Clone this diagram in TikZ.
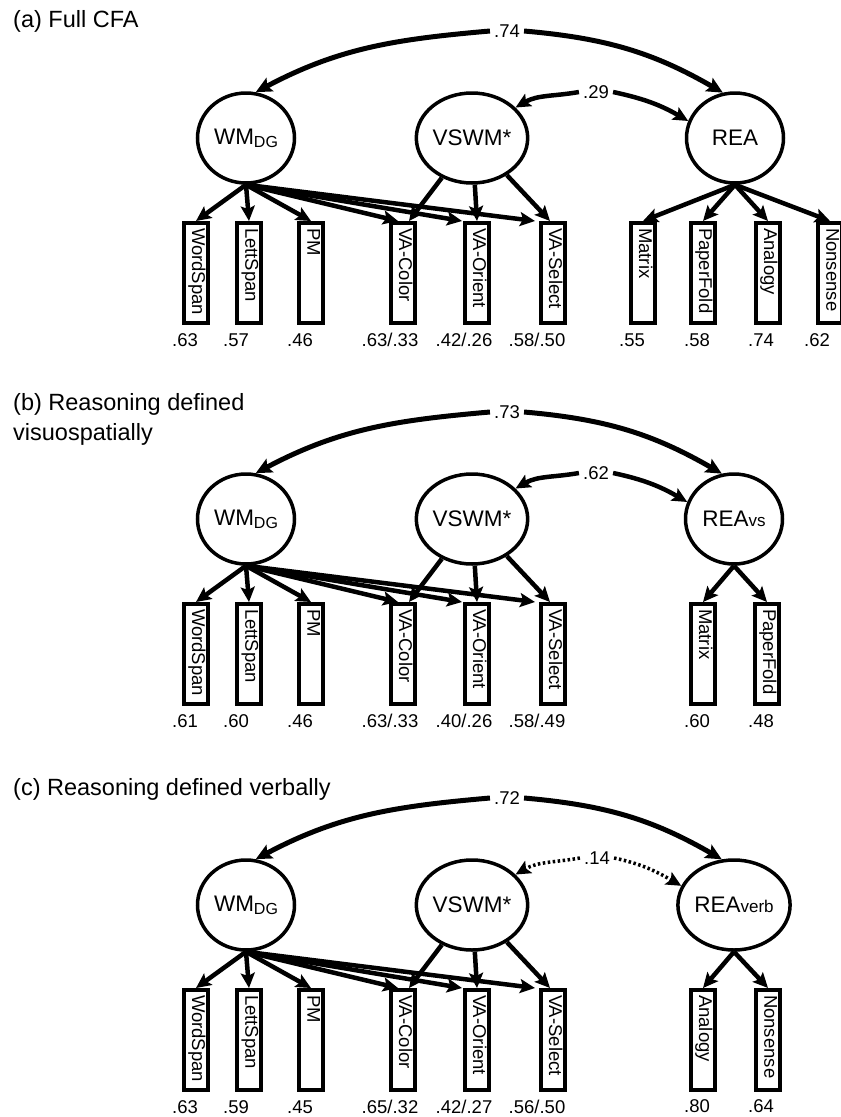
\documentclass[tikz,border=0pt]{standalone}
\usepackage{fontspec}
\setmainfont{Liberation Sans}
\usetikzlibrary{arrows.meta,shapes.geometric,calc}
\tikzset{
  lat/.style={draw, ellipse, line width=3.5pt, minimum width=97pt, minimum height=90pt, inner sep=0pt, font=\fontsize{22.5}{22.5}\selectfont},
  obs/.style={draw, rectangle, line width=4pt, minimum width=24pt, minimum height=100pt, inner sep=0pt, font=\fontsize{18.5}{18.5}\selectfont},
  load/.style={font=\fontsize{18.5}{18.5}\selectfont, inner sep=0pt},
  corr/.style={font=\fontsize{18.5}{18.5}\selectfont, inner sep=4pt},
  ttl/.style={font=\fontsize{23.5}{23.5}\selectfont, anchor=base west, inner sep=0pt},
  ar/.style={line width=4.5pt, -{Stealth[length=15pt,width=14pt,inset=3pt]}},
  cv/.style={line width=5pt, -{Stealth[length=16pt,width=15pt,inset=3pt]}},
  dotar/.style={line width=3.5pt, dash pattern=on 2.5pt off 2.5pt, -{Stealth[length=15pt,width=14pt,inset=3pt]}},
}
\newcommand\boxtxt[1]{\rotatebox{-90}{\makebox[90pt][l]{\strut #1}}}
\newcommand\subsm[1]{{\fontsize{17}{17}\selectfont #1}}
% common left part: #1 suffix, #2..#7 loading labels
\newcommand\panelleft[7]{%
  \node[lat] (wm#1) at (246,-138) {WM\raisebox{-3pt}{\fontsize{16}{16}\selectfont DG}};
  \node[lat] (vs#1) at (472,-138) {VSWM*};
  \node[obs] (ws#1) at (196,-273) {\boxtxt{WordSpan}};
  \node[obs] (ls#1) at (249,-273) {\boxtxt{LettSpan}};
  \node[obs] (pm#1) at (311,-273) {\boxtxt{PM}};
  \node[obs] (vc#1) at (403,-273) {\boxtxt{VA-Color}};
  \node[obs] (vo#1) at (477,-273) {\boxtxt{VA-Orient}};
  \node[obs] (vl#1) at (553,-273) {\boxtxt{VA-Select}};
  \draw[ar] (wm#1.south) -- (ws#1.north);
  \draw[ar] (wm#1.south) -- (ls#1.north);
  \draw[ar] (wm#1.south) -- (pm#1.north);
  \draw[ar] (wm#1.south) -- ($(vc#1.north)+(-5,0)$);
  \draw[ar] (wm#1.south) -- ($(vo#1.north)+(-15,0)$);
  \draw[ar] (wm#1.south) -- ($(vl#1.north)+(-18,0)$);
  \draw[ar] (vs#1) -- ($(vc#1.north)+(6,0)$);
  \draw[ar] (vs#1) -- (vo#1.north);
  \draw[ar] (vs#1) -- ($(vl#1.north)+(-3,0)$);
  \node[load] (lws#1) at (185,-340) {#2};
  \node[load] (lls#1) at (236,-340) {#3};
  \node[load] (lpm#1) at (300,-340) {#4};
  \node[load] (lvc#1) at (390,-340) {#5};
  \node[load] (lvo#1) at (464,-340) {#6};
  \node[load] (lvl#1) at (537,-340) {#7};
}
\begin{document}
\begin{tikzpicture}[x=1pt,y=1pt]
\useasboundingbox (0,0) rectangle (841,-1117);
% ---------- (a)
\node[ttl] (ta) at (13,-27) {(a) Full CFA};
\panelleft{a}{.63}{.57}{.46}{.63/.33}{.42/.26}{.58/.50}
\node[lat] (reaa) at (735,-138) {REA};
\node[obs] (mxa) at (643,-273) {\boxtxt{Matrix}};
\node[obs] (pfa) at (703,-273) {\boxtxt{PaperFold}};
\node[obs] (ana) at (768,-273) {\boxtxt{Analogy}};
\node[obs] (nsa) at (830,-273) {\boxtxt{Nonsense}};
\draw[ar] (reaa.south) -- (mxa.north);
\draw[ar] (reaa.south) -- (pfa.north);
\draw[ar] (reaa.south) -- (ana.north);
\draw[ar] (reaa.south) -- (nsa.north);
\node[load] (lmxa) at (632,-340) {.55};
\node[load] (lpfa) at (697,-340) {.58};
\node[load] (lana) at (761,-340) {.74};
\node[load] (lnsa) at (817,-340) {.62};
\node[corr] (c74) at (507,-31) {.74};
\draw[cv] (c74.west) to[out=185,in=28] (wma.78);
\draw[cv] (c74.east) to[out=-5,in=150] (reaa.105);
\node[corr] (c29) at (596,-92) {.29};
\draw[ar] (c29.west) to[out=190,in=30] (vsa.35);
\draw[ar] (c29.east) to[out=-12,in=150] (reaa.160);
% ---------- (b)
\node[ttl] (tb1) at (13,-410) {(b) Reasoning defined};
\node[ttl] (tb2) at (13,-440) {visuospatially};
\begin{scope}[yshift=-381pt]
\panelleft{b}{.61}{.60}{.46}{.63/.33}{.40/.26}{.58/.49}
\node[lat] (reab) at (734,-138) {REA\subsm{vs}};
\node[obs] (mxb) at (703,-273) {\boxtxt{Matrix}};
\node[obs] (pfb) at (767,-273) {\boxtxt{PaperFold}};
\draw[ar] (reab.south) -- (mxb.north);
\draw[ar] (reab.south) -- (pfb.north);
\node[load] (lmxb) at (697,-340) {.60};
\node[load] (lpfb) at (761,-340) {.48};
\node[corr] (c73) at (507,-31) {.73};
\draw[cv] (c73.west) to[out=185,in=28] (wmb.78);
\draw[cv] (c73.east) to[out=-5,in=150] (reab.105);
\node[corr] (c62) at (596,-92) {.62};
\draw[ar] (c62.west) to[out=190,in=30] (vsb.35);
\draw[ar] (c62.east) to[out=-12,in=150] (reab.160);
\end{scope}
% ---------- (c)
\node[ttl] (tc) at (13,-795) {(c) Reasoning defined verbally};
\begin{scope}[yshift=-767pt]
\panelleft{c}{.63}{.59}{.45}{.65/.32}{.42/.27}{.56/.50}
\node[lat] (reac) at (734,-138) {REA\subsm{verb}};
\node[obs] (anc) at (703,-273) {\boxtxt{Analogy}};
\node[obs] (nsc) at (768,-273) {\boxtxt{Nonsense}};
\draw[ar] (reac.south) -- (anc.north);
\draw[ar] (reac.south) -- (nsc.north);
\node[load] (lanc) at (697,-339) {.80};
\node[load] (lnsc) at (761,-339) {.64};
\node[corr] (c72) at (507,-31) {.72};
\draw[cv] (c72.west) to[out=185,in=28] (wmc.78);
\draw[cv] (c72.east) to[out=-5,in=150] (reac.105);
\node[corr] (c14) at (597,-91) {.14};
\draw[dotar] (c14.west) to[out=190,in=30] (vsc.35);
\draw[dotar] (c14.east) to[out=-12,in=150] (reac.160);
\end{scope}
\end{tikzpicture}
\end{document}
